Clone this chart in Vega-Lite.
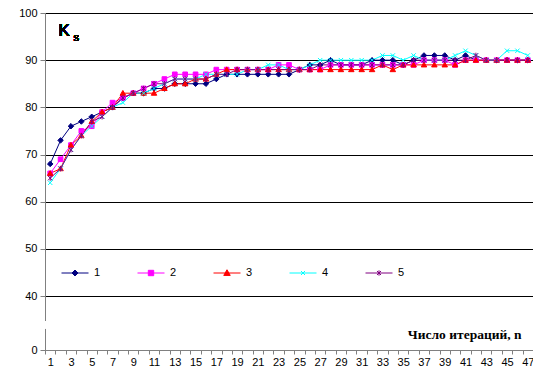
{
  "$schema": "https://vega.github.io/schema/vega-lite/v6.json",
  "width": 488,
  "height": 337,
  "autosize": "none",
  "padding": {"left": 45, "top": 13, "right": 0, "bottom": 18},
  "background": "white",
  "config": {
    "view": {"stroke": null},
    "font": "Liberation Sans",
    "axis": {"labelFont": "Liberation Sans", "labelFontSize": 11, "labelColor": "#000"}
  },
  "data": {
    "values": [
      {"n":1,"a":68,"b":66,"c":66,"d":64,"e":65},
      {"n":2,"a":73,"b":69,"c":67,"d":67,"e":67},
      {"n":3,"a":76,"b":72,"c":72,"d":71,"e":71},
      {"n":4,"a":77,"b":75,"c":74,"d":74,"e":74},
      {"n":5,"a":78,"b":76,"c":77,"d":76,"e":77},
      {"n":6,"a":79,"b":79,"c":79,"d":78,"e":78},
      {"n":7,"a":80,"b":81,"c":80,"d":80,"e":80},
      {"n":8,"a":82,"b":82,"c":83,"d":81,"e":82},
      {"n":9,"a":83,"b":83,"c":83,"d":83,"e":83},
      {"n":10,"a":83,"b":84,"c":83,"d":83,"e":84},
      {"n":11,"a":84,"b":85,"c":83,"d":84,"e":85},
      {"n":12,"a":84,"b":86,"c":84,"d":85,"e":85},
      {"n":13,"a":85,"b":87,"c":85,"d":86,"e":86},
      {"n":14,"a":85,"b":87,"c":85,"d":86,"e":86},
      {"n":15,"a":85,"b":87,"c":86,"d":86,"e":86},
      {"n":16,"a":85,"b":87,"c":86,"d":87,"e":86},
      {"n":17,"a":86,"b":88,"c":87,"d":87,"e":87},
      {"n":18,"a":87,"b":88,"c":88,"d":87,"e":87},
      {"n":19,"a":87,"b":88,"c":88,"d":87,"e":88},
      {"n":20,"a":87,"b":88,"c":88,"d":88,"e":88},
      {"n":21,"a":87,"b":88,"c":88,"d":88,"e":88},
      {"n":22,"a":87,"b":88,"c":88,"d":89,"e":88},
      {"n":23,"a":87,"b":89,"c":88,"d":89,"e":88},
      {"n":24,"a":87,"b":89,"c":88,"d":88,"e":88},
      {"n":25,"a":88,"b":88,"c":88,"d":88,"e":88},
      {"n":26,"a":89,"b":88,"c":88,"d":89,"e":88},
      {"n":27,"a":89,"b":88,"c":88,"d":90,"e":89},
      {"n":28,"a":90,"b":89,"c":88,"d":90,"e":89},
      {"n":29,"a":89,"b":89,"c":88,"d":90,"e":89},
      {"n":30,"a":89,"b":89,"c":88,"d":90,"e":89},
      {"n":31,"a":89,"b":89,"c":88,"d":90,"e":89},
      {"n":32,"a":90,"b":89,"c":88,"d":90,"e":89},
      {"n":33,"a":90,"b":89,"c":89,"d":91,"e":89},
      {"n":34,"a":90,"b":89,"c":88,"d":91,"e":89},
      {"n":35,"a":89,"b":89,"c":89,"d":90,"e":89},
      {"n":36,"a":90,"b":89,"c":89,"d":91,"e":90},
      {"n":37,"a":91,"b":90,"c":89,"d":90,"e":90},
      {"n":38,"a":91,"b":90,"c":89,"d":90,"e":90},
      {"n":39,"a":91,"b":90,"c":89,"d":90,"e":90},
      {"n":40,"a":90,"b":89,"c":89,"d":91,"e":90},
      {"n":41,"a":91,"b":90,"c":90,"d":92,"e":90},
      {"n":42,"a":90,"b":90,"c":90,"d":91,"e":91},
      {"n":43,"a":90,"b":90,"c":90,"d":90,"e":90},
      {"n":44,"a":90,"b":90,"c":90,"d":90,"e":90},
      {"n":45,"a":90,"b":90,"c":90,"d":92,"e":90},
      {"n":46,"a":90,"b":90,"c":90,"d":92,"e":90},
      {"n":47,"a":90,"b":90,"c":90,"d":91,"e":90}
    ]
  },
  "layer": [
    {
      "transform": [
        {"fold": ["a","b","c","d","e"], "as": ["key","v"]},
        {"lookup": "key", "from": {"data": {"values": [
          {"key":"a","s":"1","t":"m1"},{"key":"b","s":"2","t":"m2"},{"key":"c","s":"3","t":"m3"},{"key":"d","s":"4","t":"m4"},{"key":"e","s":"5","t":"m5"}
        ]}, "key": "key", "fields": ["s","t"]}}
      ],
      "layer": [
        {
          "mark": {"type": "line", "strokeWidth": 1},
          "encoding": {
            "x": {"field": "n", "type": "ordinal", "bandPosition": 0.5,
              "scale": {"type": "band", "paddingInner": 0, "paddingOuter": 0},
              "axis": {
                "tickBand": "extent", "grid": false, "domainColor": "#808080", "tickColor": "#808080",
                "tickSize": 4, "labelAngle": 0, "labelPadding": 2, "labelOverlap": false,
                "labelExpr": "datum.value % 2 == 1 ? datum.label : ''",
                "title": "Число итераций, n", "titleFont": "Liberation Serif", "titleFontWeight": "bold",
                "titleFontSize": 13.5, "titleAnchor": "end", "titleAlign": "right", "titleBaseline": "alphabetic",
                "titleX": 476, "titleY": -12, "titleColor": "#000"
              }},
            "y": {"field": "v", "type": "quantitative",
              "scale": {"domain": [28.56, 100], "nice": false, "zero": false},
              "axis": {
                "values": [28.56, 40, 50, 60, 70, 80, 90, 100],
                "labelExpr": "datum.value < 30 ? '0' : datum.label",
                "grid": true, "gridColor": "#000", "gridOpacity": 1, "gridWidth": 1,
                "domainColor": "#808080", "tickColor": "#808080", "tickSize": 5, "labelPadding": 3,
                "title": null
              }},
            "color": {"field": "s", "type": "nominal",
              "scale": {"domain": ["1","2","3","4","5"], "range": ["#000080","#FF00FF","#FF0000","#00FFFF","#800080"]},
              "legend": {
                "title": null, "orient": "none", "direction": "horizontal", "legendX": 16, "legendY": 246,
                "padding": 0, "columnPadding": 34, "labelFontSize": 11, "labelFont": "Liberation Sans",
                "labelColor": "#000", "labelOffset": 5, "symbolSize": 729, "symbolStrokeWidth": 1,
                "encode": {"symbols": {"update": {
                  "shape": {"signal": "datum.value == '1' ? 'M-1,0L1,0M0,-0.22L0.22,0L0,0.22L-0.22,0Z' : datum.value == '2' ? 'M-1,0L1,0M-0.2,-0.2L0.2,-0.2L0.2,0.2L-0.2,0.2Z' : datum.value == '3' ? 'M-1,0L1,0M0,-0.24L0.24,0.18L-0.24,0.18Z' : datum.value == '4' ? 'M-1,0L1,0M-0.15,-0.15L0.15,0.15M-0.15,0.15L0.15,-0.15' : 'M-1,0L1,0M-0.15,-0.15L0.15,0.15M-0.15,0.15L0.15,-0.15M0,-0.2L0,0.2'"},
                  "fill": {"signal": "datum.value == '1' ? '#000080' : datum.value == '2' ? '#FF00FF' : datum.value == '3' ? '#FF0000' : datum.value == '4' ? '#00FFFF' : '#800080'"},
                  "stroke": {"signal": "datum.value == '1' ? '#000080' : datum.value == '2' ? '#FF00FF' : datum.value == '3' ? '#FF0000' : datum.value == '4' ? '#00FFFF' : '#800080'"},
                  "opacity": {"value": 1}, "fillOpacity": {"value": 1}, "strokeOpacity": {"value": 1}
                }}}
              }}
          }
        },
        {
          "mark": {"type": "point", "filled": true, "strokeWidth": 1, "opacity": 1},
          "encoding": {
            "x": {"field": "n", "type": "ordinal", "bandPosition": 0.5},
            "y": {"field": "v", "type": "quantitative"},
            "fill": {"field": "t", "type": "nominal", "legend": null,
              "scale": {"domain": ["m1","m2","m3","m4","m5"], "range": ["#000080","#FF00FF","#FF0000","#00FFFF","#800080"]}},
            "stroke": {"field": "t", "type": "nominal", "legend": null,
              "scale": {"domain": ["m1","m2","m3","m4","m5"], "range": ["#000080","#FF00FF","#FF0000","#00FFFF","#800080"]}},
            "shape": {"field": "t", "type": "nominal", "legend": null,
              "scale": {"domain": ["m1","m2","m3","m4","m5"], "range": [
                "M0,-1L1,0L0,1L-1,0Z",
                "M-0.85,-0.85L0.85,-0.85L0.85,0.85L-0.85,0.85Z",
                "M0,-1L1,0.75L-1,0.75Z",
                "M-0.8,-0.8L0.8,0.8M-0.8,0.8L0.8,-0.8",
                "M-0.8,-0.8L0.8,0.8M-0.8,0.8L0.8,-0.8M0,-1L0,1"
              ]}},
            "size": {"value": 30}
          }
        }
      ]
    },
    {
      "mark": {"type": "rule", "color": "white", "strokeWidth": 4},
      "encoding": {
        "x": {"datum": 1, "type": "ordinal", "bandPosition": 0},
        "y": {"datum": 33.2, "type": "quantitative"},
        "y2": {"datum": 34.7}
      }
    },
    {
      "mark": {"type": "text", "text": "K", "fontSize": 17, "font": "Liberation Sans", "align": "left", "baseline": "alphabetic", "dx": 3, "color": "#000"},
      "encoding": {
        "x": {"datum": 2, "type": "ordinal", "bandPosition": 0},
        "y": {"datum": 95.1, "type": "quantitative"}
      }
    },
    {
      "mark": {"type": "text", "text": "s", "fontSize": 11, "font": "Liberation Sans", "align": "left", "baseline": "alphabetic", "dx": 18, "color": "#000"},
      "encoding": {
        "x": {"datum": 2, "type": "ordinal", "bandPosition": 0},
        "y": {"datum": 94.0, "type": "quantitative"}
      }
    }
  ]
}
